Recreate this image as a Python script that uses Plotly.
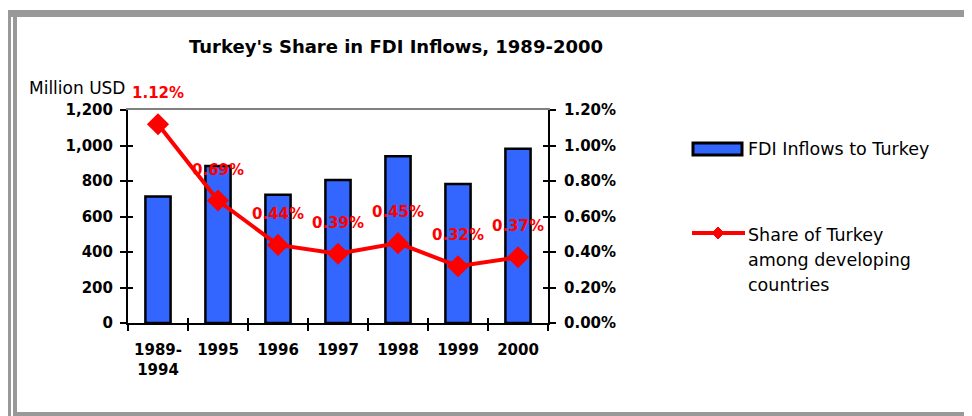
import plotly.graph_objects as go

# ---- data ----
categories = ["1989-<br>1994", "1995", "1996", "1997", "1998", "1999", "2000"]
fdi_inflows = [712, 885, 722, 805, 940, 783, 982]          # million USD
turkey_share = [1.12, 0.69, 0.44, 0.39, 0.45, 0.32, 0.37]  # % of developing countries
legend_bar_name = "FDI Inflows to Turkey"
legend_line_lines = ["Share of Turkey", "among developing", "countries"]
title_text = "Turkey's Share in FDI Inflows, 1989-2000"
y_left_title = "Million USD"

# ---- layout geometry (screen pixels) ----
W, H = 972, 416
OFF = 8                           # page body margin offset
L, R, T, B = 128, 548, 110, 323   # plot area edges on screen


def px(x):
    return (x - L) / (R - L)


def py(y):
    return (B - y) / (B - T)


FONT = "DejaVu Sans"
BLUE = "#3366FF"
RED = "#FF0000"
GRAY = "#999999"

fig = go.Figure()

fig.add_trace(go.Bar(
    x=categories, y=fdi_inflows, name=legend_bar_name,
    marker=dict(color=BLUE, line=dict(color="black", width=2.5)),
    width=0.42, showlegend=False, hoverinfo="x+y",
))

fig.add_trace(go.Scatter(
    x=categories, y=turkey_share, yaxis="y2", name=" ".join(legend_line_lines),
    mode="lines+markers",
    line=dict(color=RED, width=4),
    marker=dict(symbol="diamond", size=17, color=RED),
    showlegend=False,
))

# invisible helper traces so the overlay axes (crossing ticks, top line) render
idx = list(range(len(categories)))
fig.add_trace(go.Scatter(x=idx, y=fdi_inflows, xaxis="x2", yaxis="y3",
                         mode="markers", marker=dict(opacity=0),
                         hoverinfo="skip", showlegend=False))
fig.add_trace(go.Scatter(x=idx, y=turkey_share, xaxis="x3", yaxis="y4",
                         mode="markers", marker=dict(opacity=0),
                         hoverinfo="skip", showlegend=False))

# data labels (category index positions)
for i, v in enumerate(turkey_share):
    fig.add_annotation(
        x=i, y=v, xref="x", yref="y2", text=f"{v:.2f}%", showarrow=False,
        yshift=31, font=dict(family=FONT, size=15, color=RED, weight="bold"),
    )

tickfont = dict(family=FONT, size=15, color="black", weight="bold")

fig.update_layout(
    width=W, height=H,
    margin=dict(l=L - OFF, r=W - (R - OFF), t=T - OFF, b=H - (B - OFF), pad=0),
    paper_bgcolor="white", plot_bgcolor="white",
    xaxis=dict(
        type="category", tickson="boundaries", ticks="outside", ticklen=6,
        tickwidth=2, tickcolor="black", showline=True, linecolor="black",
        linewidth=2, showgrid=False, tickfont=tickfont, ticklabelstandoff=12,
        range=[-0.5, 6.5],
    ),
    xaxis2=dict(
        overlaying="x", side="bottom", range=[-0.5, 6.5], tick0=-0.5, dtick=1,
        ticks="inside", ticklen=5, tickwidth=2, tickcolor="black",
        showticklabels=False, showgrid=False, zeroline=False, showline=False,
    ),
    xaxis3=dict(
        overlaying="x", side="top", range=[-0.5, 6.5], showline=True,
        linecolor="#808080", linewidth=2, ticks="", showticklabels=False,
        showgrid=False, zeroline=False,
    ),
    yaxis=dict(
        range=[0, 1200], dtick=200, tickformat=",", ticks="outside", ticklen=6,
        tickwidth=2, tickcolor="black", showline=True, linecolor="black",
        linewidth=2, showgrid=False, zeroline=False, tickfont=tickfont,
        ticklabelstandoff=4,
    ),
    yaxis3=dict(
        overlaying="y", side="left", range=[0, 1200], dtick=200, ticks="inside",
        ticklen=5, tickwidth=2, tickcolor="black", showticklabels=False,
        showgrid=False, zeroline=False, showline=False,
    ),
    yaxis2=dict(
        overlaying="y", side="right", range=[0, 1.2], dtick=0.2,
        tickformat=".2f", ticksuffix="%", ticks="outside", ticklen=6,
        tickwidth=2, tickcolor="black", showline=True, linecolor="black",
        linewidth=2, showgrid=False, zeroline=False, tickfont=tickfont,
        ticklabelstandoff=5,
    ),
    yaxis4=dict(
        overlaying="y", side="right", range=[0, 1.2], dtick=0.2, ticks="inside",
        ticklen=5, tickwidth=2, tickcolor="black", showticklabels=False,
        showgrid=False, zeroline=False, showline=False,
    ),
    showlegend=False,
)

# title and left axis caption
fig.add_annotation(
    x=px(396), y=py(47), xref="paper", yref="paper", text=title_text,
    showarrow=False, xanchor="center", yanchor="middle",
    font=dict(family=FONT, size=18, color="black", weight="bold"),
)
fig.add_annotation(
    x=px(27), y=py(88), xref="paper", yref="paper", text=y_left_title,
    showarrow=False, xanchor="left", yanchor="middle",
    font=dict(family=FONT, size=17, color="black"),
)

# custom legend
fig.add_shape(type="rect", xref="paper", yref="paper",
              x0=px(693), x1=px(742), y0=py(155), y1=py(143),
              fillcolor=BLUE, line=dict(color="black", width=3))
fig.add_annotation(
    x=px(746), y=py(149), xref="paper", yref="paper", text=legend_bar_name,
    showarrow=False, xanchor="left", yanchor="middle",
    font=dict(family=FONT, size=17.5, color="black"),
)
fig.add_shape(type="line", xref="paper", yref="paper",
              x0=px(692), x1=px(745), y0=py(233), y1=py(233),
              line=dict(color=RED, width=4))
cx, cy, d = 718, 233, 6
fig.add_shape(type="path", xref="paper", yref="paper",
              path=(f"M {px(cx - d)},{py(cy)} L {px(cx)},{py(cy - d)} "
                    f"L {px(cx + d)},{py(cy)} L {px(cx)},{py(cy + d)} Z"),
              fillcolor=RED, line=dict(color=RED, width=1))
for i, line_txt in enumerate(legend_line_lines):
    fig.add_annotation(
        x=px(746), y=py(235 + 25 * i), xref="paper", yref="paper",
        text=line_txt, showarrow=False, xanchor="left", yanchor="middle",
        font=dict(family=FONT, size=17.5, color="black"),
    )

# outer frame
frame = [
    (7, W + 20, 10, 17),      # top band
    (7, 11, 10, H + 20),      # left outer
    (13, 17, 17, 412),        # left inner
    (13, W + 20, 412, H + 20),  # bottom band
]
for x0, x1, y0, y1 in frame:
    fig.add_shape(type="rect", xref="paper", yref="paper",
                  x0=px(x0), x1=px(x1), y0=py(y1), y1=py(y0),
                  fillcolor=GRAY, line=dict(width=0), layer="above")

fig.write_html("out.html")
